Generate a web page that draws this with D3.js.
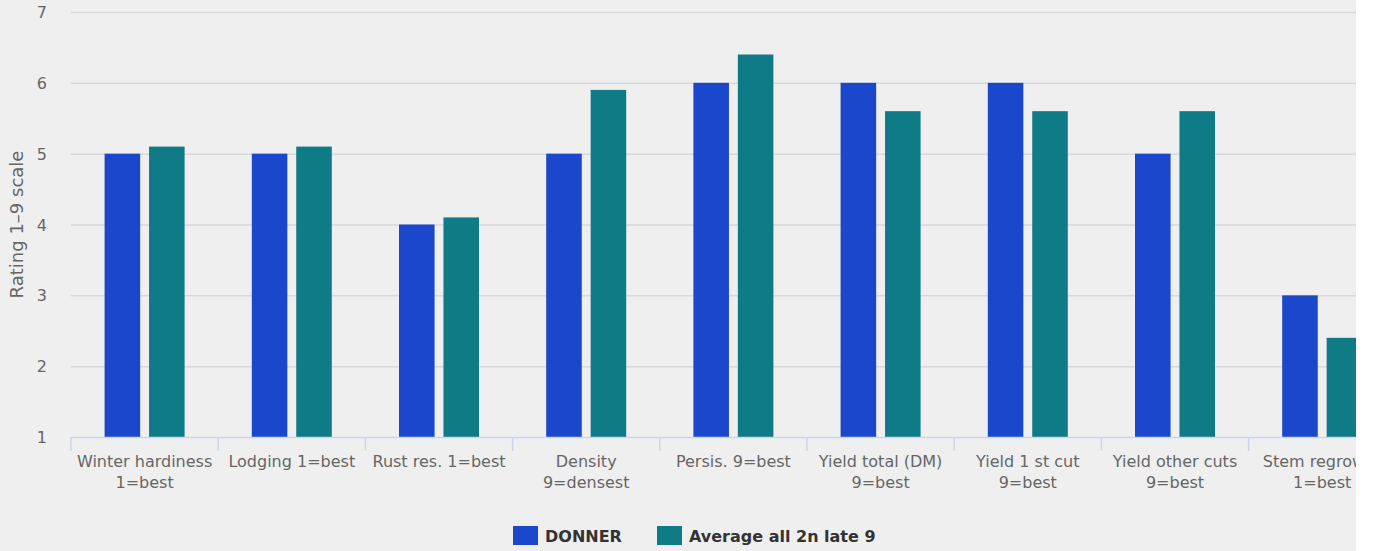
<!DOCTYPE html>
<html>
<head>
<meta charset="utf-8">
<script src="https://cdn.jsdelivr.net/npm/d3@7"></script>
<style>
  html, body { margin: 0; padding: 0; background: #ffffff; }
  #wrap { width: 1356px; height: 551px; overflow: hidden; background: #efefef; }
  svg { display: block; font-family: "DejaVu Sans", sans-serif; }
</style>
</head>
<body>
<div id="wrap"><svg id="chart"></svg></div>
<script>
// Categories (label lines) and series values
const categories = [
    ["Winter hardiness", "1=best"],
    ["Lodging 1=best"],
    ["Rust res. 1=best"],
    ["Density", "9=densest"],
    ["Persis. 9=best"],
    ["Yield total (DM)", "9=best"],
    ["Yield 1 st cut", "9=best"],
    ["Yield other cuts", "9=best"],
    ["Stem regrowth", "1=best"]
];
const donner = [5, 5, 4, 5, 6, 6, 6, 5, 3];
const average = [5.1, 5.1, 4.1, 5.9, 6.4, 5.6, 5.6, 5.6, 2.4];
const yTicks = [1, 2, 3, 4, 5, 6, 7];
const seriesNames = ["DONNER", "Average all 2n late 9"];
const colors = ["#1a47cc", "#0e7b87"];

const width = 1420, height = 551;
const margin = { top: 12, left: 71, bottom: 114 };
const plotW = 147.2 * categories.length;
const plotBottom = height - margin.bottom; // 437

const svg = d3.select("#chart").attr("width", width).attr("height", height);

const x = d3.scaleBand()
    .domain(d3.range(categories.length))
    .range([margin.left, margin.left + plotW]);

const x1 = d3.scaleBand()
    .domain([0, 1])
    .range([0, 80])
    .paddingInner(0.2);

const y = d3.scaleLinear()
    .domain([1, 7])
    .range([plotBottom, margin.top]);

// Grid lines
svg.append("g")
    .selectAll("line")
    .data(yTicks.slice(1))
    .join("line")
    .attr("x1", margin.left)
    .attr("x2", margin.left + plotW)
    .attr("y1", d => y(d) + 0.5)
    .attr("y2", d => y(d) + 0.5)
    .attr("stroke", "#d9d9d9")
    .attr("stroke-width", 1.5);

// Y tick labels
svg.append("g")
    .selectAll("text")
    .data(yTicks)
    .join("text")
    .attr("x", 47)
    .attr("y", d => y(d) + 6)
    .attr("text-anchor", "end")
    .attr("fill", "#666666")
    .attr("font-size", 16)
    .text(d => d);

// Y axis title
svg.append("text")
    .attr("transform", `translate(23,${(y(7) + y(1)) / 2}) rotate(-90)`)
    .attr("text-anchor", "middle")
    .attr("fill", "#666666")
    .attr("font-size", 18)
    .text("Rating 1\u20139 scale");

// Bars
const groups = svg.append("g")
    .selectAll("g")
    .data(categories.map((c, i) => i))
    .join("g")
    .attr("transform", i => `translate(${x(i) + x.bandwidth() / 2 - 40},0)`);

groups.selectAll("rect")
    .data(i => [donner[i], average[i]])
    .join("rect")
    .attr("x", (d, j) => x1(j))
    .attr("width", x1.bandwidth())
    .attr("y", d => y(d))
    .attr("height", d => plotBottom - y(d))
    .attr("fill", (d, j) => colors[j]);

// X axis line and ticks
const xAxis = svg.append("g");
xAxis.append("line")
    .attr("x1", margin.left)
    .attr("x2", margin.left + plotW)
    .attr("y1", plotBottom + 0.5)
    .attr("y2", plotBottom + 0.5)
    .attr("stroke", "#ccd6eb")
    .attr("stroke-width", 1.5);
xAxis.selectAll("line.tick")
    .data(d3.range(categories.length + 1))
    .join("line")
    .attr("class", "tick")
    .attr("x1", i => margin.left + i * x.step())
    .attr("x2", i => margin.left + i * x.step())
    .attr("y1", plotBottom)
    .attr("y2", plotBottom + 14)
    .attr("stroke", "#ccd6eb")
    .attr("stroke-width", 1.5);

// X labels
xAxis.selectAll("text")
    .data(categories)
    .join("text")
    .attr("x", (d, i) => x(i) + x.bandwidth() / 2)
    .attr("y", plotBottom + 30)
    .attr("text-anchor", "middle")
    .attr("fill", "#666666")
    .attr("font-size", 16)
    .selectAll("tspan")
    .data(d => d)
    .join("tspan")
    .attr("x", function () { return this.parentNode.getAttribute("x"); })
    .attr("dy", (d, k) => k === 0 ? 0 : 21)
    .text(d => d);

// Legend
const legendX = [513, 657];
const legend = svg.append("g")
    .selectAll("g")
    .data(seriesNames)
    .join("g")
    .attr("transform", (d, i) => `translate(${legendX[i]},526)`);
legend.append("rect")
    .attr("width", 25)
    .attr("height", 19)
    .attr("fill", (d, i) => colors[i]);
legend.append("text")
    .attr("x", 32)
    .attr("y", 16)
    .attr("fill", "#333333")
    .attr("font-size", 16)
    .attr("font-weight", "bold")
    .text(d => d);
</script>
</body>
</html>
